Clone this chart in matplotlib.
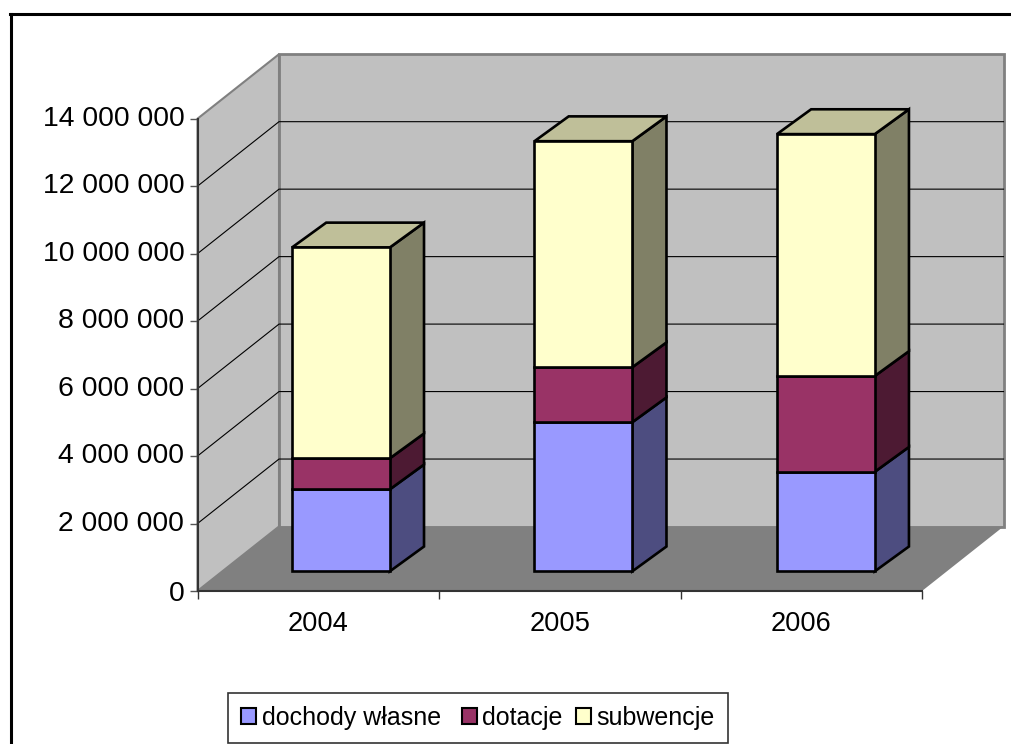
"""
plot.py

Stacked 3D-look column chart (budget income 2004-2006), drawn on a flat axes
with an oblique projection for the depth.
"""

import matplotlib
matplotlib.use('Agg')
import matplotlib.pyplot as plt
from matplotlib.lines import Line2D
from matplotlib.patches import Patch, Polygon
from matplotlib.ticker import FuncFormatter
from matplotlib.transforms import ScaledTranslation

years = ['2004', '2005', '2006']
dochody_wlasne = [2430000, 4420000, 2950000]
dotacje = [920000, 1630000, 2840000]
subwencje = [6250000, 6700000, 7170000]
y_ticks = [0, 2000000, 4000000, 6000000, 8000000, 10000000, 12000000, 14000000]

# trailing space keeps the wider gap before the next legend entry
series_names = ['dochody własne ', 'dotacje', 'subwencje']
front_colors = ['#9999FF', '#993366', '#FFFFCC']
side_colors = ['#4D4D80', '#4D1A33', '#808066']
top_color = '#BFBF99'

W, H = 1011, 744
# full depth of the chart box, in data units
DEPTH_X = 81.5 / 241.5
DEPTH_Y = 64.5 / 33.74 * 1e6
BAR_WIDTH = 0.405
BAR_DEPTH = (0.305, 0.69)
# columns lean a little more sideways than the walls
BAR_LEAN = 2.8 / 241.5

plt.rcParams['font.family'] = ['Liberation Sans', 'DejaVu Sans']


def project(x, y, d):
    return (x + d * DEPTH_X, y + d * DEPTH_Y)


def face(ax, corners, color, edge='black', lw=1.9, z=3):
    pts = [project(*c) for c in corners]
    ax.add_patch(Polygon(pts, closed=True, facecolor=color, edgecolor=edge,
                         linewidth=lw, clip_on=False, zorder=z, joinstyle='miter'))


fig = plt.figure(figsize=(W / 100, H / 100), dpi=100)
ax = fig.add_axes([197.5 / W, (H - 591) / H, 724.5 / W, 472.3 / H])
ax.set_xlim(0, len(years))
ax.set_ylim(0, y_ticks[-1])
ax.patch.set_visible(False)

top = y_ticks[-1]
right = len(years)

# walls and floor
face(ax, [(0, 0, 1), (right, 0, 1), (right, top, 1), (0, top, 1)], '#C0C0C0', edge='#808080', lw=2, z=1)
face(ax, [(0, 0, 0), (0, 0, 1), (0, top, 1), (0, top, 0)], '#C0C0C0', edge='#808080', lw=1.5, z=1)
face(ax, [(0, 0, 0), (right, 0, 0), (right, 0, 1), (0, 0, 1)], '#808080', edge='none', lw=0, z=2)

# gridlines over the left and back walls
for v in y_ticks[1:-1]:
    xs, ys = zip(project(0, v, 0), project(0, v, 1), project(right, v, 1))
    ax.plot(xs, ys, color='black', linewidth=0.8, clip_on=False, zorder=1.5)

# stacked columns
for i in range(len(years)):
    x0 = i * 1.004 + 0.491 - BAR_WIDTH / 2
    x1 = x0 + BAR_WIDTH
    d0, d1 = BAR_DEPTH
    base = 0
    for vals, fc, sc in zip([dochody_wlasne, dotacje, subwencje], front_colors, side_colors):
        upper = base + vals[i]
        x1b = x1 + BAR_LEAN
        face(ax, [(x1, base, d0), (x1b, base, d1), (x1b, upper, d1), (x1, upper, d0)], sc)
        face(ax, [(x0, base, d0), (x1, base, d0), (x1, upper, d0), (x0, upper, d0)], fc, z=4)
        base = upper
    face(ax, [(x0, base, d0), (x1, base, d0), (x1 + BAR_LEAN, base, d1), (x0 + BAR_LEAN, base, d1)], top_color)

# axes
for side in ['top', 'right']:
    ax.spines[side].set_visible(False)
for side in ['left', 'bottom']:
    ax.spines[side].set_color('#333333')
    ax.spines[side].set_linewidth(1.5)
    ax.spines[side].set_zorder(2.5)

ax.set_yticks(y_ticks)
ax.yaxis.set_major_formatter(FuncFormatter(lambda v, _: f'{int(v):,}'.replace(',', ' ')))
ax.tick_params(axis='y', length=6, width=1, color='#555555', labelsize=20.4, pad=3.5)

# labels sit slightly above their ticks, except the zero
lift = ScaledTranslation(0, 2 / 72, fig.dpi_scale_trans)
for label in ax.get_yticklabels()[1:]:
    label.set_transform(label.get_transform() + lift)

ax.set_xticks(range(len(years) + 1))
ax.set_xticklabels([])
ax.set_xticks([i + 0.5 for i in range(len(years))], labels=years, minor=True)
ax.tick_params(axis='x', which='major', length=6, width=1, color='#333333')
ax.tick_params(axis='x', which='minor', length=0, labelsize=19.6, pad=14.5)

# chart area frame: only left and top are inside the image
fig.add_artist(Line2D([11 / W, 11 / W], [0, 1 - 14 / H], color='black', linewidth=2.2))
fig.add_artist(Line2D([10 / W, 1], [1 - 14 / H, 1 - 14 / H], color='black', linewidth=2.2))

handles = [Patch(facecolor=c, edgecolor='black', linewidth=1.5) for c in front_colors]
leg = fig.legend(handles, series_names, ncol=3, loc='center',
                 bbox_to_anchor=(478 / W, 1 - 718 / H), fontsize=18, frameon=True,
                 fancybox=False, edgecolor='#333333', framealpha=1, borderpad=0.52,
                 handlelength=0.6, handleheight=0.6, handletextpad=0.22,
                 columnspacing=0.55, borderaxespad=0)
leg.get_frame().set_linewidth(1.2)

plt.savefig('out.png', dpi=100)
plt.close(fig)
